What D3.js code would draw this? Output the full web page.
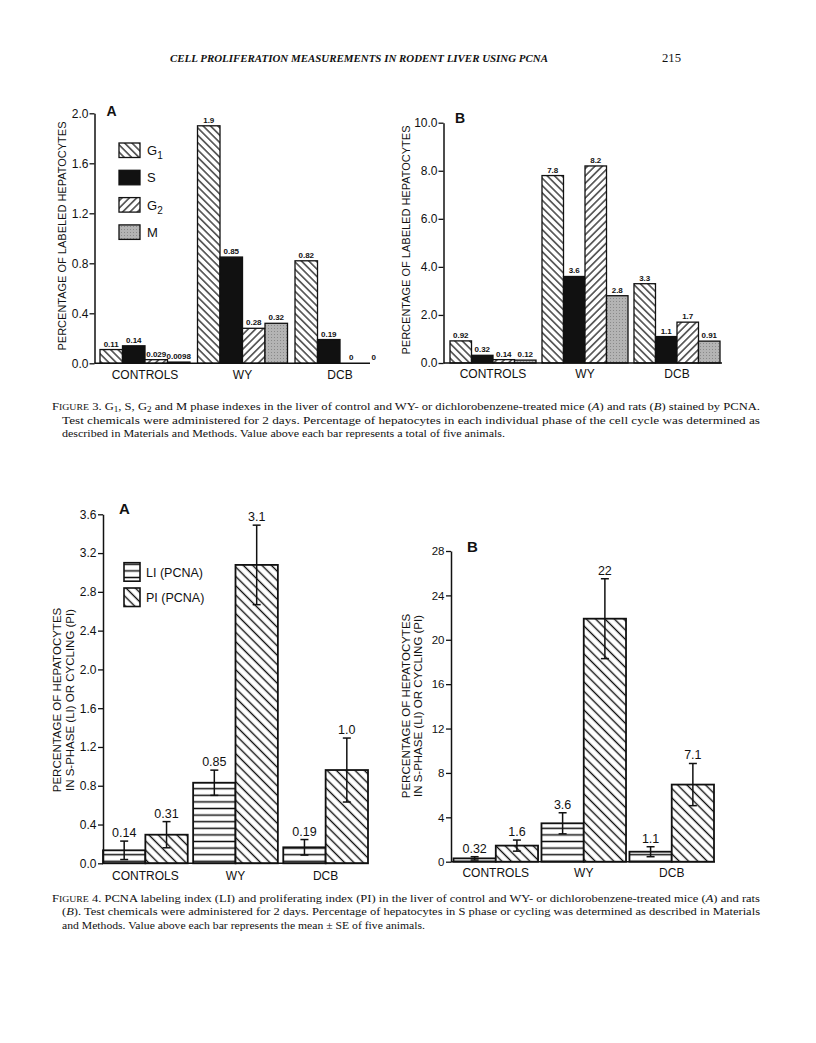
<!DOCTYPE html>
<html><head><meta charset="utf-8">
<script src="https://cdn.jsdelivr.net/npm/d3@7"></script>
<style>body{margin:0;background:#fff}</style>
</head><body>
<script>
// ---------- DATA ----------
const categories = ["CONTROLS", "WY", "DCB"];
// Figure 3 (phase indexes)
const phaseNames = ["G1", "S", "G2", "M"];
const miceG1 = [0.11, 1.9, 0.82];
const miceS  = [0.14, 0.85, 0.19];
const miceG2 = [0.029, 0.28, 0];
const miceM  = [0.0098, 0.32, 0];
const ratsG1 = [0.92, 7.8, 3.3];
const ratsS  = [0.32, 3.6, 1.1];
const ratsG2 = [0.14, 8.2, 1.7];
const ratsM  = [0.12, 2.8, 0.91];
const fig3MiceTicks = [0, 0.4, 0.8, 1.2, 1.6, 2.0];
const fig3RatsTicks = [0, 2, 4, 6, 8, 10];
// Figure 4 (LI / PI)
const indexNames = ["LI (PCNA)", "PI (PCNA)"];
const miceLI = [0.134, 0.831, 0.165];
const miceLIse = [0.095, 0.13, 0.08];
const miceLIlabels = ["0.14", "0.85", "0.19"];
const micePI = [0.295, 3.078, 0.962];
const micePIse = [0.135, 0.41, 0.33];
const micePIlabels = ["0.31", "3.1", "1.0"];
const ratsLI = [0.3, 3.46, 0.9];
const ratsLIse = [0.15, 0.95, 0.45];
const ratsLIlabels = ["0.32", "3.6", "1.1"];
const ratsPI = [1.45, 21.9, 6.95];
const ratsPIse = [0.5, 3.6, 1.9];
const ratsPIlabels = ["1.6", "22", "7.1"];
const fig4MiceTicks = [0, 0.4, 0.8, 1.2, 1.6, 2.0, 2.4, 2.8, 3.2, 3.6];
const fig4RatsTicks = [0, 4, 8, 12, 16, 20, 24, 28];

// ---------- SETUP ----------
const INK = "#111";
const SANS = "'Liberation Sans', Arial, Helvetica, sans-serif";
const SERIF = "'Liberation Serif', 'Times New Roman', serif";
const svg = d3.select("body").append("svg").attr("width", 816).attr("height", 1043)
  .style("background", "#fff");
const defs = svg.append("defs");

function hatch(id, spacing, angle, sw) {
  const p = defs.append("pattern").attr("id", id).attr("patternUnits", "userSpaceOnUse")
    .attr("width", spacing).attr("height", spacing)
    .attr("patternTransform", `rotate(${angle})`);
  p.append("rect").attr("width", spacing).attr("height", spacing).attr("fill", "#fff");
  p.append("line").attr("x1", spacing / 2).attr("x2", spacing / 2).attr("y1", -1).attr("y2", spacing + 1)
    .attr("stroke", INK).attr("stroke-width", sw);
}
hatch("g1hatch", 5.2, -45, 1.2);
hatch("g2hatch", 5.2, 45, 1.2);
hatch("pihatch", 6.6, -45, 1.4);
hatch("lihatch", 6.6, 90, 1.5);
// stipple for M
const st = defs.append("pattern").attr("id", "mstip").attr("patternUnits", "userSpaceOnUse")
  .attr("width", 3).attr("height", 3);
st.append("rect").attr("width", 3).attr("height", 3).attr("fill", "#b4b4b4");
st.append("rect").attr("x", 1).attr("y", 1).attr("width", 1).attr("height", 1).attr("fill", "#8a8a8a");

const phaseFill = { G1: "url(#g1hatch)", S: INK, G2: "url(#g2hatch)", M: "url(#mstip)" };
const indexFill = { "LI (PCNA)": "url(#lihatch)", "PI (PCNA)": "url(#pihatch)" };

function yAxis(g, y, x0, ticks, fmt, fs, pad) {
  const ax = g.append("g").attr("transform", `translate(${x0},0)`)
    .call(d3.axisLeft(y).tickValues(ticks).tickFormat(fmt).tickSize(5).tickSizeOuter(0).tickPadding(pad));
  ax.select(".domain").attr("stroke", INK).attr("stroke-width", 1.5);
  ax.selectAll(".tick line").attr("stroke", INK).attr("stroke-width", 1.3);
  ax.selectAll(".tick text").attr("fill", INK).style("font-family", SANS).style("font-size", fs + "px");
  return ax;
}
function xLine(g, x0, x1, yy) {
  g.append("line").attr("x1", x0).attr("x2", x1).attr("y1", yy).attr("y2", yy)
    .attr("stroke", INK).attr("stroke-width", 1.5);
}
function rotLabel(g, lines, xs, cy, fs) {
  lines.forEach((t, i) => {
    g.append("text").attr("transform", `translate(${xs[i]},${cy}) rotate(-90)`)
      .attr("text-anchor", "middle").attr("fill", INK)
      .style("font-family", SANS).style("font-size", fs + "px").text(t);
  });
}
function catLabels(g, x, yy, fs) {
  g.selectAll(null).data(categories).enter().append("text")
    .attr("x", d => x(d) + x.bandwidth() / 2).attr("y", yy).attr("text-anchor", "middle")
    .attr("fill", INK).style("font-family", SANS).style("font-size", fs + "px").text(d => d);
}
function panelLetter(g, t, x, yy, fs) {
  g.append("text").attr("x", x).attr("y", yy).attr("fill", INK)
    .style("font-family", SANS).style("font-weight", "bold").style("font-size", fs + "px").text(t);
}

// ---------- FIGURE 3 ----------
function fig3(cfg) {
  const g = svg.append("g");
  const x = d3.scaleBand().domain(categories).range(cfg.xr).paddingInner(cfg.pad).paddingOuter(0);
  const xs = d3.scaleBand().domain(phaseNames).range([0, x.bandwidth()]);
  const y = d3.scaleLinear().domain(cfg.dom).range(cfg.yr);
  const rows = [];
  phaseNames.forEach((p, j) => cfg.series[j].forEach((v, i) => rows.push({ cat: categories[i], p, v })));
  g.selectAll(null).data(rows.filter(d => d.v > 0)).enter().append("rect")
    .attr("x", d => x(d.cat) + xs(d.p)).attr("width", xs.bandwidth())
    .attr("y", d => y(d.v)).attr("height", d => y(0) - y(d.v))
    .attr("fill", d => phaseFill[d.p]).attr("stroke", INK).attr("stroke-width", 1.3);
  g.selectAll(null).data(rows).enter().append("text")
    .attr("x", d => x(d.cat) + xs(d.p) + xs.bandwidth() / 2).attr("y", d => y(d.v) - 3)
    .attr("text-anchor", "middle").attr("fill", INK)
    .style("font-family", SANS).style("font-weight", "bold").style("font-size", "8px")
    .text(d => String(d.v));
  yAxis(g, y, cfg.axisX, cfg.ticks, d3.format(".1f"), 12, 1);
  xLine(g, cfg.axisX, cfg.xEnd, y(0));
  catLabels(g, x, cfg.catY, 12);
  rotLabel(g, ["PERCENTAGE OF LABELED HEPATOCYTES"], [cfg.labX], cfg.labY, 11);
  panelLetter(g, cfg.letter, cfg.letterX, cfg.letterY, 14);
  return g;
}
const g3a = fig3({ xr: [100, 385], pad: 0.077, dom: [0, 2.0], yr: [363.3, 113.3], axisX: 94.5, xEnd: 370,
  series: [miceG1, miceS, miceG2, miceM], ticks: fig3MiceTicks, catY: 378.5, labX: 66, labY: 236,
  letter: "A", letterX: 106.5, letterY: 115.5 });
fig3({ xr: [450, 720], pad: 0.065, dom: [0, 10], yr: [363, 122.7], axisX: 443.5, xEnd: 722,
  series: [ratsG1, ratsS, ratsG2, ratsM], ticks: fig3RatsTicks, catY: 378, labX: 410, labY: 240,
  letter: "B", letterX: 455, letterY: 122.7 });
// legend (3A)
phaseNames.forEach((p, i) => {
  const yy = 143 + i * 27.3;
  g3a.append("rect").attr("x", 119).attr("y", yy).attr("width", 21).attr("height", 14.5)
    .attr("fill", phaseFill[p]).attr("stroke", INK).attr("stroke-width", 1.3);
  const t = g3a.append("text").attr("x", 147).attr("y", yy + 12).attr("fill", INK)
    .style("font-family", SANS).style("font-size", "13px");
  t.append("tspan").text(p[0]);
  if (p.length > 1) t.append("tspan").attr("dy", 4).style("font-size", "10px").text(p.slice(1));
});

// ---------- FIGURE 4 ----------
function fig4(cfg) {
  const g = svg.append("g");
  const x = d3.scaleBand().domain(categories).range(cfg.xr).paddingInner(cfg.pad).paddingOuter(0);
  const xs = d3.scaleBand().domain(indexNames).range([0, x.bandwidth()]);
  const y = d3.scaleLinear().domain(cfg.dom).range(cfg.yr);
  const rows = [];
  indexNames.forEach((n, j) => cfg.vals[j].forEach((v, i) =>
    rows.push({ cat: categories[i], n, v, se: cfg.se[j][i], lab: cfg.labs[j][i] })));
  g.selectAll(null).data(rows).enter().append("rect")
    .attr("x", d => x(d.cat) + xs(d.n)).attr("width", xs.bandwidth())
    .attr("y", d => y(d.v)).attr("height", d => y(0) - y(d.v))
    .attr("fill", d => indexFill[d.n]).attr("stroke", INK).attr("stroke-width", 1.8);
  const eb = g.selectAll(null).data(rows).enter().append("g")
    .attr("transform", d => `translate(${x(d.cat) + xs(d.n) + xs.bandwidth() / 2},0)`)
    .attr("stroke", INK).attr("stroke-width", 1.5);
  eb.append("line").attr("y1", d => y(d.v - d.se)).attr("y2", d => y(d.v + d.se));
  eb.append("line").attr("x1", -4).attr("x2", 4).attr("y1", d => y(d.v + d.se)).attr("y2", d => y(d.v + d.se));
  eb.append("line").attr("x1", -4).attr("x2", 4).attr("y1", d => y(d.v - d.se)).attr("y2", d => y(d.v - d.se));
  g.selectAll(null).data(rows).enter().append("text")
    .attr("x", d => x(d.cat) + xs(d.n) + xs.bandwidth() / 2).attr("y", d => y(d.v + d.se) - 4)
    .attr("text-anchor", "middle").attr("fill", INK)
    .style("font-family", SANS).style("font-size", "12.5px").text(d => d.lab);
  yAxis(g, y, cfg.axisX, cfg.ticks, cfg.fmt, cfg.tfs, 1.5);
  xLine(g, cfg.axisX, cfg.xEnd, y(0));
  catLabels(g, x, cfg.catY, 12);
  rotLabel(g, ["PERCENTAGE OF HEPATOCYTES", "IN S-PHASE (LI) OR CYCLING (PI)"], cfg.labX, cfg.labY, 11.5);
  panelLetter(g, cfg.letter, cfg.letterX, cfg.letterY, 15);
  return g;
}
const g4a = fig4({ xr: [103, 368], pad: 0.06, dom: [0, 3.6], yr: [863.3, 514.3], axisX: 103, xEnd: 368,
  vals: [miceLI, micePI], se: [miceLIse, micePIse], labs: [miceLIlabels, micePIlabels],
  ticks: fig4MiceTicks, fmt: d3.format(".1f"), tfs: 12, catY: 879.5, labX: [61, 73.5], labY: 700,
  letter: "A", letterX: 119, letterY: 514 });
fig4({ xr: [453.5, 714], pad: 0.039, dom: [0, 28], yr: [861.7, 551], axisX: 451, xEnd: 715,
  vals: [ratsLI, ratsPI], se: [ratsLIse, ratsPIse], labs: [ratsLIlabels, ratsPIlabels],
  ticks: fig4RatsTicks, fmt: d3.format("d"), tfs: 11.5, catY: 877, labX: [410, 422], labY: 706,
  letter: "B", letterX: 467, letterY: 552 });
// legend (4A)
indexNames.forEach((n, i) => {
  const yy = 562.7 + i * 25.3;
  g4a.append("rect").attr("x", 124).attr("y", yy).attr("width", 16).attr("height", 18.5)
    .attr("fill", indexFill[n]).attr("stroke", INK).attr("stroke-width", 1.6);
  g4a.append("text").attr("x", 146).attr("y", yy + 14).attr("fill", INK)
    .style("font-family", SANS).style("font-size", "12.5px").text(n);
});

// ---------- PAGE TEXT ----------
function serifLine(parts, x, yy, len, fs) {
  const t = svg.append("text").attr("x", x).attr("y", yy).attr("fill", INK)
    .style("font-family", SERIF).style("font-size", fs + "px");
  if (len) t.attr("textLength", len).attr("lengthAdjust", "spacingAndGlyphs");
  parts.forEach(p => {
    const s = t.append("tspan").text(p.t);
    if (p.it) s.style("font-style", "italic");
    if (p.sc) s.style("font-size", (fs * 0.78) + "px");
    if (p.sub) { s.attr("dy", 2).style("font-size", (fs * 0.72) + "px"); }
    if (p.up) s.attr("dy", -2);
  });
  return t;
}
serifLine([{ t: "CELL PROLIFERATION MEASUREMENTS IN RODENT LIVER USING PCNA", it: true }], 170, 62, 378, 11)
  .style("font-weight", "bold");
serifLine([{ t: "215" }], 662, 62, 19, 11.5);

serifLine([{ t: "F" }, { t: "IGURE", sc: true }, { t: " 3. G" }, { t: "1", sub: true }, { t: ", S, G", up: true },
  { t: "2", sub: true }, { t: " and M phase indexes in the liver of control and WY- or dichlorobenzene-treated mice (", up: true },
  { t: "A", it: true }, { t: ") and rats (" }, { t: "B", it: true }, { t: ") stained by PCNA." }], 52, 409.5, 708, 11);
serifLine([{ t: "Test chemicals were administered for 2 days. Percentage of hepatocytes in each individual phase of the cell cycle was determined as" }],
  62, 423.5, 698, 11);
serifLine([{ t: "described in Materials and Methods. Value above each bar represents a total of five animals." }],
  62, 437, 443, 11);

serifLine([{ t: "F" }, { t: "IGURE", sc: true }, { t: " 4. PCNA labeling index (LI) and proliferating index (PI) in the liver of control and WY- or dichlorobenzene-treated mice (" },
  { t: "A", it: true }, { t: ") and rats" }], 52, 901.5, 708, 11);
serifLine([{ t: "(" }, { t: "B", it: true }, { t: "). Test chemicals were administered for 2 days. Percentage of hepatocytes in S phase or cycling was determined as described in Materials" }],
  62, 915, 698, 11);
serifLine([{ t: "and Methods. Value above each bar represents the mean ± SE of five animals." }],
  62, 928.5, 363, 11);
</script>
</body></html>
